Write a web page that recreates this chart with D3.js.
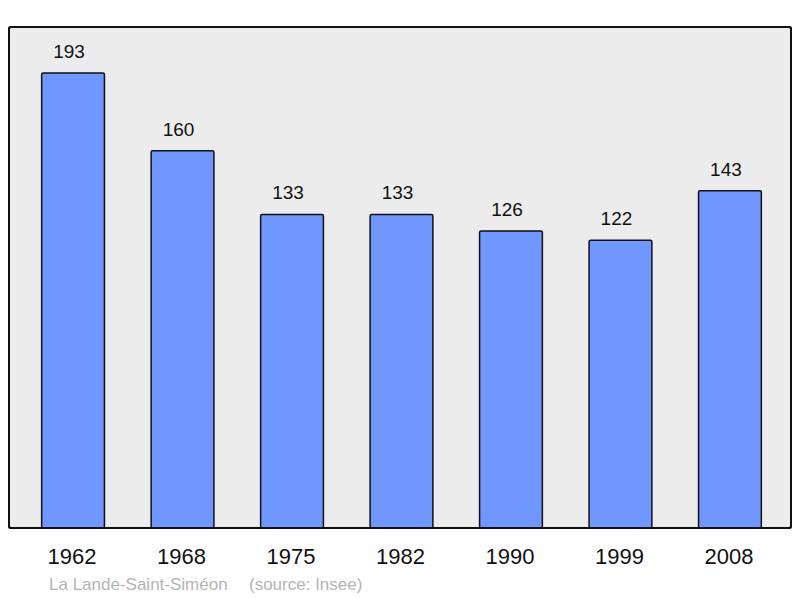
<!DOCTYPE html>
<html><head><meta charset="utf-8">
<script src="https://cdn.jsdelivr.net/npm/d3@7"></script>
<style>body{margin:0;background:#fff}svg{display:block}</style>
</head><body>
<svg id="c" width="800" height="598"></svg>
<script>
const years = ["1962","1968","1975","1982","1990","1999","2008"];
const population = [193,160,133,133,126,122,143];
const commune = "La Lande-Saint-Siméon";
const sourceText = "(source: Insee)";

const svg = d3.select("#c");
const L = 9, R = 791, T = 27, B = 528;
const x = d3.scaleBand().domain(years).range([L + 2, R + 1]).paddingInner(0.4265).paddingOuter(0.28);
const y = d3.scaleLinear().domain([0, 212.5]).range([B, T]);

svg.append("rect").attr("x", L).attr("y", T).attr("width", R - L).attr("height", B - T)
  .attr("rx", 2).attr("fill", "#ececec").attr("stroke", "#111").attr("stroke-width", 2);

svg.selectAll("rect.bar").data(population).enter().append("rect").attr("class", "bar")
  .attr("x", (d, i) => x(years[i])).attr("y", d => y(d))
  .attr("width", x.bandwidth()).attr("height", d => B - y(d))
  .attr("rx", 1.5).attr("fill", "#7096ff").attr("stroke", "#111").attr("stroke-width", 1.5);

svg.append("rect").attr("x", L).attr("y", T).attr("width", R - L).attr("height", B - T)
  .attr("rx", 2).attr("fill", "none").attr("stroke", "#111").attr("stroke-width", 2);

svg.selectAll("text.val").data(population).enter().append("text").attr("class", "val")
  .attr("x", (d, i) => x(years[i]) + x.bandwidth() / 2 - 4).attr("y", d => y(d) - 15)
  .attr("text-anchor", "middle").attr("font-family", "Liberation Sans, Arial, sans-serif")
  .attr("font-size", 19).attr("fill", "#111").text(d => d);

svg.selectAll("text.yr").data(years).enter().append("text").attr("class", "yr")
  .attr("x", d => x(d) + x.bandwidth() / 2 - 1).attr("y", 564)
  .attr("text-anchor", "middle").attr("font-family", "Liberation Sans, Arial, sans-serif")
  .attr("font-size", 22).attr("fill", "#111").text(d => d);

svg.append("text").attr("x", 49).attr("y", 590).attr("font-family", "Liberation Sans, Arial, sans-serif")
  .attr("font-size", 17).attr("fill", "#b4b4b4").text(commune);
svg.append("text").attr("x", 249).attr("y", 590).attr("font-family", "Liberation Sans, Arial, sans-serif")
  .attr("font-size", 17).attr("fill", "#b4b4b4").text(sourceText);
</script>
</body></html>
